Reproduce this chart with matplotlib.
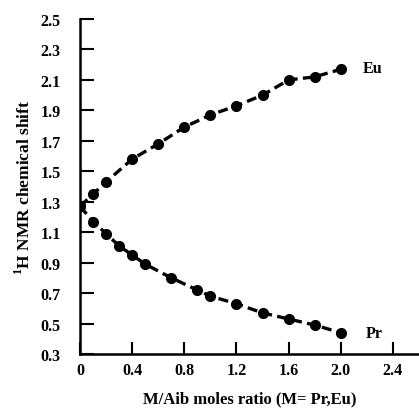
import matplotlib
matplotlib.use("Agg")
import matplotlib.pyplot as plt

# Eu series
eu_x = [0, 0.1, 0.2, 0.4, 0.6, 0.8, 1.0, 1.2, 1.4, 1.6, 1.8, 2.0]
eu_y = [1.27, 1.35, 1.43, 1.58, 1.68, 1.79, 1.87, 1.93, 2.00, 2.10, 2.12, 2.17]

# Pr series
pr_x = [0, 0.1, 0.2, 0.3, 0.4, 0.5, 0.7, 0.9, 1.0, 1.2, 1.4, 1.6, 1.8, 2.0]
pr_y = [1.27, 1.17, 1.09, 1.01, 0.95, 0.89, 0.80, 0.72, 0.68, 0.63, 0.57, 0.53, 0.49, 0.44]

xticks = [0, 0.4, 0.8, 1.2, 1.6, 2.0, 2.4]
xticklabels = ["0", "0.4", "0.8", "1.2", "1.6", "2.0", "2.4"]
yticks = [0.3, 0.5, 0.7, 0.9, 1.1, 1.3, 1.5, 1.7, 1.9, 2.1, 2.3, 2.5]

plt.rcParams['font.family'] = ['Liberation Serif', 'DejaVu Serif']
plt.rcParams['font.weight'] = 'bold'
plt.rcParams['mathtext.fontset'] = 'custom'
plt.rcParams['mathtext.rm'] = 'Liberation Serif:bold'

fig = plt.figure(figsize=(4.19, 4.14), dpi=100)
ax = fig.add_axes([0.191, 0.1425, 0.809, 0.8092])

style = dict(color='black', linestyle=(0, (3, 1.6)), linewidth=2.4,
             marker='o', markersize=7)
ax.plot(eu_x, eu_y, **style)
ax.plot(pr_x, pr_y, **style)

ax.text(2.17, 2.18, "Eu", fontsize=11.5, fontweight='bold', va='center', ha='left')
ax.text(2.19, 0.44, "Pr", fontsize=11.5, fontweight='bold', va='center', ha='left')

ax.set_xlim(0, 2.6)
ax.set_ylim(0.3, 2.5)
ax.set_xticks(xticks)
ax.set_xticklabels(xticklabels)
ax.set_yticks(yticks)
ax.tick_params(direction='in', length=10, width=1.5, labelsize=11.5)
ax.tick_params(axis='y', pad=14)
ax.tick_params(axis='x', pad=6)
ax.tick_params(axis='x', length=9)

for s in ['top', 'right']:
    ax.spines[s].set_visible(False)
for s in ['left', 'bottom']:
    ax.spines[s].set_linewidth(1.8)

ax.set_xlabel("M/Aib moles ratio (M= Pr,Eu)", fontsize=12, fontweight='bold', labelpad=9)
ax.set_ylabel(r"$^{1}$H NMR chemical shift", fontsize=12.5, fontweight='bold', labelpad=5)

fig.savefig("out.png", dpi=100)
